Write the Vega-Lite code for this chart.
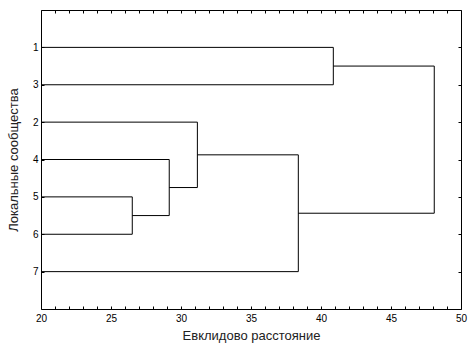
{
  "$schema": "https://vega.github.io/schema/vega-lite/v6.json",
  "width": 420,
  "height": 299,
  "autosize": {"type": "none"},
  "padding": {"left": 41, "top": 10, "right": 14, "bottom": 47},
  "background": "white",
  "config": {
    "view": {"stroke": "black", "strokeWidth": 1},
    "axis": {
      "labelFont": "Liberation Sans",
      "titleFont": "Liberation Sans",
      "labelColor": "black",
      "titleColor": "#222",
      "tickColor": "black",
      "tickWidth": 1,
      "domain": false,
      "grid": false,
      "labelFontSize": 10,
      "titleFontSize": 13,
      "titleFontWeight": "normal"
    }
  },
  "data": {
    "values": [
      {"x": 20, "x2": 40.88, "y": 1, "y2": 1},
      {"x": 20, "x2": 40.88, "y": 2, "y2": 2},
      {"x": 40.88, "x2": 40.88, "y": 1, "y2": 2},
      {"x": 40.88, "x2": 48.09, "y": 1.5, "y2": 1.5},
      {"x": 20, "x2": 31.17, "y": 3, "y2": 3},
      {"x": 20, "x2": 29.16, "y": 4, "y2": 4},
      {"x": 20, "x2": 26.52, "y": 5, "y2": 5},
      {"x": 20, "x2": 26.52, "y": 6, "y2": 6},
      {"x": 26.52, "x2": 26.52, "y": 5, "y2": 6},
      {"x": 26.52, "x2": 29.16, "y": 5.5, "y2": 5.5},
      {"x": 29.16, "x2": 29.16, "y": 4, "y2": 5.5},
      {"x": 29.16, "x2": 31.17, "y": 4.75, "y2": 4.75},
      {"x": 31.17, "x2": 31.17, "y": 3, "y2": 4.75},
      {"x": 31.17, "x2": 38.38, "y": 3.875, "y2": 3.875},
      {"x": 20, "x2": 38.38, "y": 7, "y2": 7},
      {"x": 38.38, "x2": 38.38, "y": 3.875, "y2": 7},
      {"x": 38.38, "x2": 48.09, "y": 5.4375, "y2": 5.4375},
      {"x": 48.09, "x2": 48.09, "y": 1.5, "y2": 5.4375}
    ]
  },
  "layer": [
    {
      "mark": {"type": "rule", "color": "black", "strokeWidth": 1},
      "encoding": {
        "x": {
          "field": "x", "type": "quantitative",
          "scale": {"domain": [20, 50], "nice": false, "zero": false},
          "axis": {
            "orient": "bottom",
            "title": "Евклидово расстояние",
            "values": [20,21,22,23,24,25,26,27,28,29,30,31,32,33,34,35,36,37,38,39,40,41,42,43,44,45,46,47,48,49,50],
            "labelExpr": "datum.value % 5 == 0 ? datum.label : ''",
            "offset": -3,
            "tickSize": 3,
            "labelPadding": 4,
            "titlePadding": 6,
            "labelFlush": false
          }
        },
        "x2": {"field": "x2"},
        "y": {
          "field": "y", "type": "quantitative",
          "scale": {"domain": [0, 8], "reverse": true, "nice": false, "zero": false},
          "axis": {
            "orient": "left",
            "title": "Локальные сообщества",
            "values": [1, 2, 3, 4, 5, 6, 7],
            "labelExpr": "['', '1', '3', '2', '4', '5', '6', '7'][datum.value]",
            "offset": -3,
            "tickSize": 3,
            "labelPadding": 3,
            "titlePadding": 12
          }
        },
        "y2": {"field": "y2"}
      }
    },
    {
      "mark": {"type": "rule", "opacity": 0},
      "encoding": {
        "x": {
          "field": "x", "type": "quantitative",
          "axis": {
            "orient": "top",
            "title": null,
            "values": [20,21,22,23,24,25,26,27,28,29,30,31,32,33,34,35,36,37,38,39,40,41,42,43,44,45,46,47,48,49,50],
            "labels": false,
            "offset": -3,
            "tickSize": 3
          }
        },
        "y": {
          "field": "y", "type": "quantitative",
          "axis": {
            "orient": "right",
            "title": null,
            "values": [1, 2, 3, 4, 5, 6, 7],
            "labels": false,
            "offset": -3,
            "tickSize": 3
          }
        }
      }
    }
  ],
  "resolve": {"axis": {"x": "independent", "y": "independent"}}
}
